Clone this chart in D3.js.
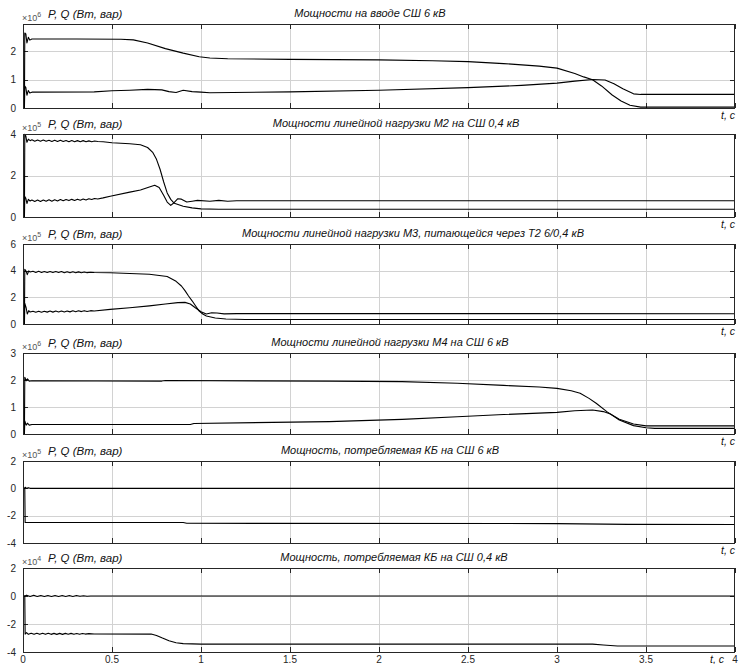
<!DOCTYPE html>
<html>
<head>
<meta charset="utf-8">
<script src="https://cdn.jsdelivr.net/npm/d3@7"></script>
<style>
  html, body { margin: 0; padding: 0; background: #fff; }
  svg { display: block; }
  text { font-family: "Liberation Sans", Arial, sans-serif; }
</style>
</head>
<body>
<svg id="chart" width="739" height="664"></svg>
<script>
// Time axis (s)
const timeTicks = [0, 0.5, 1, 1.5, 2, 2.5, 3, 3.5, 4];
const timeTickLabels = ["0", "0.5", "1", "1.5", "2", "2.5", "3", "3.5", "4"];

// Panel titles
const titles = [
  "Мощности на вводе СШ 6 кВ",
  "Мощности линейной нагрузки М2 на СШ 0,4 кВ",
  "Мощности линейной нагрузки М3, питающейся через Т2 6/0,4 кВ",
  "Мощности линейной нагрузки М4 на СШ 6 кВ",
  "Мощность, потребляемая КБ на СШ 6 кВ",
  "Мощность, потребляемая КБ на СШ 0,4 кВ"
];
const yLabel = "P, Q (Вт, вар)";
const exponents = [6, 5, 5, 6, 5, 4];
const yDomains = [[0, 2.97], [0, 4], [0, 6], [0, 3], [-4, 2], [-4, 2]];
const yTicks = [[0, 1, 2], [0, 2, 4], [0, 2, 4, 6], [0, 1, 2, 3], [-4, -2, 0, 2], [-4, -2, 0, 2]];

// Series: [t, value] pairs in units of 10^exponent
const p1P = [[0,0],[0.008,0],[0.01,2.65],[0.016,2.62],[0.022,2.3],[0.03,2.5],[0.038,2.4],[0.05,2.44],[0.3,2.44],[0.55,2.43],[0.62,2.41],[0.7,2.3],[0.8,2.1],[0.9,1.94],[0.99,1.81],[1.05,1.77],[1.15,1.74],[1.5,1.72],[2.0,1.70],[2.3,1.67],[2.5,1.64],[2.7,1.57],[2.9,1.48],[3.0,1.41],[3.1,1.22],[3.15,1.1],[3.2,1.0],[3.25,0.78],[3.31,0.46],[3.36,0.25],[3.41,0.1],[3.47,0.03],[3.6,0.03],[4,0.03]];
const p1Q = [[0,0],[0.008,0],[0.01,0.78],[0.016,0.72],[0.022,0.45],[0.03,0.62],[0.038,0.53],[0.05,0.56],[0.4,0.57],[0.5,0.61],[0.6,0.63],[0.7,0.66],[0.78,0.64],[0.82,0.58],[0.86,0.55],[0.9,0.63],[0.95,0.58],[1.0,0.56],[1.05,0.54],[1.5,0.57],[2.0,0.63],[2.5,0.72],[2.8,0.8],[3.0,0.88],[3.1,0.95],[3.2,1.01],[3.27,0.99],[3.32,0.86],[3.37,0.68],[3.43,0.5],[3.47,0.48],[4,0.48]];

const p2P = [[0,0],[0.008,0],[0.01,3.98],[0.016,3.9],[0.022,3.6],[0.03,3.75],[0.04,3.68],[0.05,3.72],[0.066,3.65],[0.082,3.71],[0.098,3.65],[0.114,3.71],[0.13,3.65],[0.146,3.7],[0.162,3.64],[0.178,3.7],[0.194,3.64],[0.21,3.7],[0.226,3.64],[0.242,3.69],[0.258,3.63],[0.274,3.69],[0.29,3.63],[0.306,3.68],[0.322,3.63],[0.338,3.68],[0.354,3.63],[0.37,3.67],[0.386,3.63],[0.402,3.66],[0.42,3.64],[0.45,3.63],[0.5,3.58],[0.6,3.53],[0.66,3.48],[0.7,3.35],[0.73,3.1],[0.75,2.78],[0.77,2.3],[0.79,1.7],[0.81,1.16],[0.83,0.85],[0.85,0.66],[0.9,0.52],[0.95,0.44],[1.0,0.39],[1.1,0.37],[4,0.37]];
const p2Q = [[0,0],[0.008,0],[0.01,0.98],[0.016,0.9],[0.022,0.65],[0.03,0.85],[0.04,0.77],[0.05,0.82],[0.066,0.75],[0.082,0.82],[0.098,0.75],[0.114,0.82],[0.13,0.76],[0.146,0.83],[0.162,0.76],[0.178,0.83],[0.194,0.77],[0.21,0.84],[0.226,0.78],[0.242,0.84],[0.258,0.79],[0.274,0.85],[0.29,0.8],[0.306,0.86],[0.322,0.81],[0.338,0.87],[0.354,0.82],[0.37,0.88],[0.386,0.84],[0.402,0.89],[0.42,0.87],[0.45,0.92],[0.49,1.0],[0.6,1.2],[0.66,1.3],[0.71,1.45],[0.74,1.53],[0.765,1.42],[0.79,1.05],[0.81,0.72],[0.83,0.56],[0.85,0.7],[0.87,0.88],[0.89,0.86],[0.92,0.72],[0.95,0.76],[0.98,0.8],[1.05,0.76],[1.1,0.8],[1.15,0.76],[1.2,0.78],[4,0.78]];

const p3P = [[0,0],[0.008,0],[0.01,4.1],[0.018,3.95],[0.024,3.7],[0.032,3.98],[0.04,3.9],[0.056,3.95],[0.072,3.87],[0.088,3.95],[0.104,3.87],[0.12,3.94],[0.136,3.86],[0.152,3.94],[0.168,3.86],[0.184,3.93],[0.2,3.86],[0.216,3.93],[0.232,3.85],[0.248,3.92],[0.264,3.85],[0.28,3.92],[0.296,3.85],[0.312,3.91],[0.328,3.85],[0.344,3.9],[0.36,3.85],[0.38,3.88],[0.4,3.86],[0.49,3.84],[0.6,3.79],[0.71,3.73],[0.81,3.56],[0.86,3.2],[0.89,2.85],[0.91,2.5],[0.93,2.1],[0.95,1.74],[0.97,1.35],[0.99,0.97],[1.01,0.75],[1.03,0.6],[1.08,0.45],[1.14,0.38],[1.25,0.34],[4,0.34]];
const p3Q = [[0,0],[0.008,0],[0.01,1.55],[0.018,1.2],[0.024,0.75],[0.032,1.0],[0.04,0.9],[0.056,0.96],[0.072,0.88],[0.088,0.96],[0.104,0.88],[0.12,0.96],[0.136,0.89],[0.152,0.97],[0.168,0.89],[0.184,0.97],[0.2,0.9],[0.216,0.98],[0.232,0.9],[0.248,0.98],[0.264,0.91],[0.28,0.99],[0.296,0.92],[0.312,0.99],[0.328,0.93],[0.344,1.0],[0.36,0.94],[0.38,1.0],[0.4,0.98],[0.49,1.1],[0.6,1.22],[0.71,1.36],[0.8,1.5],[0.87,1.6],[0.91,1.62],[0.94,1.5],[0.97,1.2],[1.0,0.92],[1.03,0.75],[1.06,0.84],[1.09,0.83],[1.13,0.76],[1.2,0.78],[4,0.77]];

const p4P = [[0,0],[0.008,0],[0.01,2.1],[0.018,1.97],[0.025,2.04],[0.035,1.96],[0.05,1.97],[0.78,1.96],[0.8,1.98],[1.72,1.96],[2.13,1.94],[2.44,1.88],[2.7,1.8],[2.9,1.74],[3.0,1.69],[3.08,1.6],[3.13,1.51],[3.18,1.32],[3.22,1.14],[3.28,0.83],[3.35,0.52],[3.43,0.31],[3.5,0.23],[3.55,0.21],[4,0.21]];
const p4Q = [[0,0],[0.008,0],[0.01,0.48],[0.018,0.33],[0.025,0.4],[0.035,0.33],[0.05,0.35],[0.94,0.35],[0.96,0.39],[1.72,0.46],[2.13,0.54],[2.44,0.64],[2.7,0.72],[3.0,0.8],[3.1,0.86],[3.2,0.89],[3.26,0.83],[3.3,0.74],[3.35,0.55],[3.43,0.37],[3.5,0.3],[4,0.3]];

const p5P = [[0,0],[0.01,0],[0.012,0.08],[0.02,0],[0.03,0.05],[0.04,0],[4,0]];
const p5Q = [[0,0],[0.01,0],[0.012,-2.5],[0.9,-2.5],[0.92,-2.56],[3.0,-2.58],[3.4,-2.64],[4,-2.65]];

const p6P = [[0,0],[0.01,0],[0.02,0.06],[0.04,-0.04],[0.06,0.05],[0.08,-0.04],[0.1,0.04],[0.12,-0.04],[0.14,0.04],[0.16,-0.03],[0.18,0.04],[0.2,-0.03],[0.22,0.03],[0.24,-0.03],[0.26,0.03],[0.28,-0.03],[0.3,0.03],[0.32,-0.02],[0.34,0.02],[0.36,-0.02],[0.38,0],[4,0]];
const p6Q = [[0,0],[0.01,0],[0.012,-2.72],[0.02,-2.62],[0.03,-2.74],[0.046,-2.66],[0.062,-2.74],[0.078,-2.66],[0.094,-2.74],[0.11,-2.66],[0.126,-2.74],[0.142,-2.66],[0.158,-2.74],[0.174,-2.67],[0.19,-2.74],[0.206,-2.67],[0.222,-2.74],[0.238,-2.67],[0.254,-2.73],[0.27,-2.67],[0.286,-2.73],[0.302,-2.68],[0.318,-2.73],[0.334,-2.68],[0.35,-2.72],[0.37,-2.69],[0.4,-2.71],[0.72,-2.72],[0.75,-2.82],[0.78,-2.99],[0.82,-3.2],[0.86,-3.34],[0.9,-3.4],[1.0,-3.44],[1.5,-3.44],[3.2,-3.44],[3.26,-3.5],[3.34,-3.57],[4,-3.57]];

const seriesByPanel = [[p1P, p1Q], [p2P, p2Q], [p3P, p3Q], [p4P, p4Q], [p5P, p5Q], [p6P, p6Q]];

// Layout of the six stacked axes (pixels)
const layout = {
  left: 23, right: 735,
  tops:    [24, 134, 244, 353, 461, 568],
  bottoms: [108, 217, 324, 434, 543, 652],
  titleCenters: [370, 396, 413, 390, 390, 394]
};

const svg = d3.select("#chart");
const x = d3.scaleLinear().domain([0, 4]).range([layout.left, layout.right]);

const gridColor = "#d2d2d2";
const axisColor = "#262626";
const tickLen = 5;

seriesByPanel.forEach((series, i) => {
  const top = layout.tops[i], bottom = layout.bottoms[i];
  const y = d3.scaleLinear().domain(yDomains[i]).range([bottom, top]);
  const g = svg.append("g");

  // grid
  g.selectAll("line.vgrid").data(timeTicks.slice(1, -1)).join("line")
    .attr("x1", d => Math.round(x(d)) + 0.5).attr("x2", d => Math.round(x(d)) + 0.5)
    .attr("y1", top).attr("y2", bottom)
    .attr("stroke", gridColor).attr("stroke-width", 1);
  g.selectAll("line.hgrid").data(yTicks[i].filter(v => v > yDomains[i][0] && v < yDomains[i][1])).join("line")
    .attr("x1", layout.left).attr("x2", layout.right)
    .attr("y1", d => Math.round(y(d)) + 0.5).attr("y2", d => Math.round(y(d)) + 0.5)
    .attr("stroke", gridColor).attr("stroke-width", 1);

  // inward tick marks
  const tk = g.append("g").attr("stroke", axisColor).attr("stroke-width", 1);
  timeTicks.forEach(t => {
    const xx = Math.round(x(t)) + 0.5;
    tk.append("line").attr("x1", xx).attr("x2", xx).attr("y1", bottom).attr("y2", bottom - tickLen);
    tk.append("line").attr("x1", xx).attr("x2", xx).attr("y1", top).attr("y2", top + tickLen);
  });
  yTicks[i].forEach(v => {
    const yy = Math.round(y(v)) + 0.5;
    tk.append("line").attr("x1", layout.left).attr("x2", layout.left + tickLen).attr("y1", yy).attr("y2", yy);
    tk.append("line").attr("x1", layout.right).attr("x2", layout.right - tickLen).attr("y1", yy).attr("y2", yy);
  });

  // data lines
  const clipId = "clip" + i;
  svg.append("clipPath").attr("id", clipId).append("rect")
    .attr("x", layout.left).attr("y", top - 1).attr("width", layout.right - layout.left).attr("height", bottom - top + 2);
  const line = d3.line().x(d => x(d[0])).y(d => y(d[1]));
  g.append("g").attr("clip-path", `url(#${clipId})`)
    .selectAll("path").data(series).join("path")
    .attr("d", line).attr("fill", "none").attr("stroke", "#000").attr("stroke-width", 1.1)
    .attr("stroke-linejoin", "round");

  // frame
  g.append("rect").attr("x", layout.left + 0.5).attr("y", top + 0.5)
    .attr("width", layout.right - layout.left - 1).attr("height", bottom - top)
    .attr("fill", "none").attr("stroke", axisColor).attr("stroke-width", 1);

  // y tick labels
  g.selectAll("text.ytl").data(yTicks[i]).join("text")
    .attr("x", layout.left - 7).attr("y", d => y(d)).attr("dy", "0.35em")
    .attr("text-anchor", "end").attr("font-size", 10).attr("fill", axisColor)
    .text(d => d3.format("")(d).replace("−", "-"));

  // exponent and y label
  const ex = g.append("text").attr("x", layout.left - 1).attr("y", top - 3)
    .attr("font-size", 9).attr("fill", "#555");
  ex.append("tspan").text("×10");
  ex.append("tspan").attr("font-size", 7).attr("dy", -4).text(exponents[i]);
  g.append("text").attr("x", 48).attr("y", top - 6)
    .attr("font-size", 11.5).attr("font-style", "italic").attr("fill", "#111")
    .text(yLabel);

  // title
  g.append("text").attr("x", layout.titleCenters[i]).attr("y", top - 7)
    .attr("text-anchor", "middle").attr("font-size", 11).attr("font-style", "italic").attr("fill", "#111")
    .text(titles[i]);

  // time label
  const last = i === seriesByPanel.length - 1;
  g.append("text").attr("x", last ? 724 : layout.right).attr("y", bottom + 11)
    .attr("text-anchor", "end").attr("font-size", 10.5).attr("font-style", "italic").attr("fill", "#111")
    .text("t, c");
});

// time tick labels on the bottom axes
const lastBottom = layout.bottoms[layout.bottoms.length - 1];
svg.append("g").selectAll("text").data(timeTicks).join("text")
  .attr("x", d => x(d)).attr("y", lastBottom + 11)
  .attr("text-anchor", "middle").attr("font-size", 10).attr("fill", axisColor)
  .text((d, k) => timeTickLabels[k]);
</script>
</body>
</html>
